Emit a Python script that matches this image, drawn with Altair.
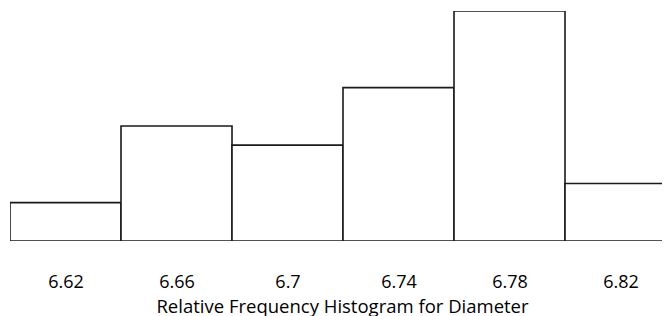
import altair as alt
import pandas as pd

bin_start = [6.60, 6.64, 6.68, 6.72, 6.76, 6.80]
bin_end = [6.64, 6.68, 6.72, 6.76, 6.80, 6.84]
rel_freq = [0.0556, 0.1667, 0.1389, 0.2222, 0.3333, 0.0833]
tick_values = [6.62, 6.66, 6.70, 6.74, 6.78, 6.82]

df = pd.DataFrame({"start": bin_start, "end": bin_end, "freq": rel_freq})

FONT = "Open Sans"

chart = alt.Chart(df).mark_rect(
    fill="white", stroke="#1a1a1a", strokeWidth=1.6, clip=True
).encode(
    x=alt.X("start:Q",
            scale=alt.Scale(domain=[6.60, 6.83495], nice=False, zero=False),
            axis=alt.Axis(values=tick_values, format="~g", domain=False, ticks=False,
                          grid=False, labelFont=FONT, labelFontSize=18,
                          labelColor="black", labelPadding=32,
                          title="Relative Frequency Histogram for Diameter",
                          titleFont=FONT, titleFontSize=18.5, titleFontWeight="normal",
                          titleColor="black", titlePadding=6, titleX=332)),
    x2="end:Q",
    y=alt.Y("freq:Q", scale=alt.Scale(domain=[0, 0.3333], nice=False), axis=None),
    y2=alt.datum(0),
).properties(
    width=652, height=230,
    autosize=alt.AutoSizeParams(type="none"),
    padding={"left": 2, "top": 3, "right": 0, "bottom": 75},
).configure_view(stroke=None)

chart.save("out.html", embed_options={"renderer": "svg", "actions": False})
